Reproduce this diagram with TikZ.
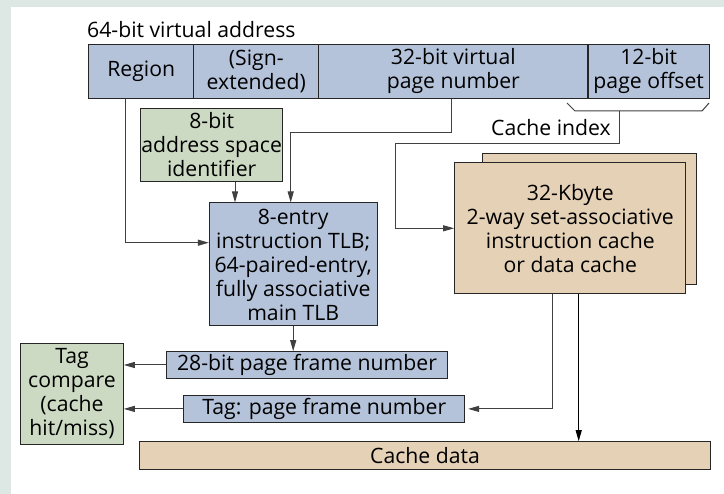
\documentclass[tikz,border=0pt]{standalone}
\usepackage{fontspec}
\setmainfont{Open Sans}
\usetikzlibrary{arrows.meta}
\definecolor{bgc}{RGB}{221,231,227}
\definecolor{blu}{RGB}{180,195,218}
\definecolor{grn}{RGB}{205,218,195}
\definecolor{ctan}{RGB}{228,209,182}
\begin{document}
\begin{tikzpicture}[x=1pt,y=-1pt,
  txt/.style={inner sep=0pt, align=center, font=\fontsize{21.2}{24}\selectfont},
  box/.style={txt, draw=black!85, line width=1pt},
  conn/.style={draw=black!75, line width=1pt},
  arr/.style={conn, -{Triangle[length=11pt,width=6pt]}}
]
\fill[bgc] (0,0) rectangle (724,494);
\fill[white] (11,7) rectangle (724,494);
\useasboundingbox (0,0) rectangle (724,494);

\node[txt, anchor=west] (title) at (87,30) {64-bit virtual address};

\node[box, fill=blu, minimum width=105.7pt, minimum height=53.7pt] (region) at (141.2,71.2) {Region};
\node[box, fill=blu, minimum width=124.7pt, minimum height=53.7pt] (sign) at (256.3,71.2) {(Sign-\\extended)};
\node[box, fill=blu, minimum width=269.3pt, minimum height=53.7pt] (vpn) at (453.3,71.2) {32-bit virtual\\page number};
\node[box, fill=blu, minimum width=121.3pt, minimum height=53.7pt] (offset) at (648.7,71.2) {12-bit\\page offset};

\node[box, fill=grn, minimum width=142pt, minimum height=73.4pt] (asid) at (211.7,145) {8-bit\\address space\\identifier};
\node[box, fill=blu, minimum width=167.7pt, minimum height=123pt] (tlb) at (293.2,264.5) {8-entry\\instruction TLB;\\64-paired-entry,\\fully associative\\main TLB};
\node[box, fill=blu, minimum width=280.6pt, minimum height=26.6pt] (frame) at (307,365) {28-bit page frame number};
\node[box, fill=blu, minimum width=280.7pt, minimum height=26.3pt] (tagpfn) at (324.3,408.9) {Tag: page frame number};
\node[box, fill=grn, minimum width=102.6pt, minimum height=101pt] (tagcmp) at (72,393.8) {Tag\\compare\\(cache\\hit/miss)};
\node[box, fill=ctan, minimum width=571.4pt, minimum height=27.6pt] (cachedata) at (425,455.5) {Cache data};
\node[box, fill=ctan, minimum width=214.3pt, minimum height=131pt] (cacheback) at (589.8,218.8) {};
\node[box, fill=ctan, minimum width=231.3pt, minimum height=131.3pt] (cachefront) at (570.3,228.3) {32-Kbyte\\2-way set-associative\\instruction cache\\or data cache};

\node[txt, anchor=east] (cilabel) at (611,127.7) {Cache index};

% brace under page offset
\draw[conn] (567,103) -- (575,111) -- (702,111) -- (709,103);

\coordinate (kr) at (125,242.7);
\draw[arr] (region.south -| kr) |- (tlb.west |- kr);

\coordinate (kv1) at (451,132.3);
\coordinate (kv) at (290.7,132.3);
\draw[arr] (vpn.south -| kv1) -- (kv1) -- (kv) -- (tlb.north -| kv);

\coordinate (ka) at (235,0);
\draw[arr] (asid.south -| ka) -- (tlb.north -| ka);

\coordinate (ci) at (619.7,111);
\coordinate (ck) at (395,144);
\draw[arr] (ci) |- (ck) |- (cachefront.west);

\draw[arr] (tlb.south) -- (tlb.south |- frame.north);
\draw[arr] (frame.west) -- (tagcmp.east |- frame.west);
\draw[arr] (tagpfn.west) -- (tagcmp.east |- tagpfn.west);

\coordinate (kc) at (552.3,0);
\draw[arr, shorten >=3pt] (cachefront.south -| kc) |- (tagpfn.east);
\coordinate (kd) at (578.7,0);
\draw[arr, draw=black] (cachefront.south -| kd) -- (cachedata.north -| kd);
\end{tikzpicture}
\end{document}
